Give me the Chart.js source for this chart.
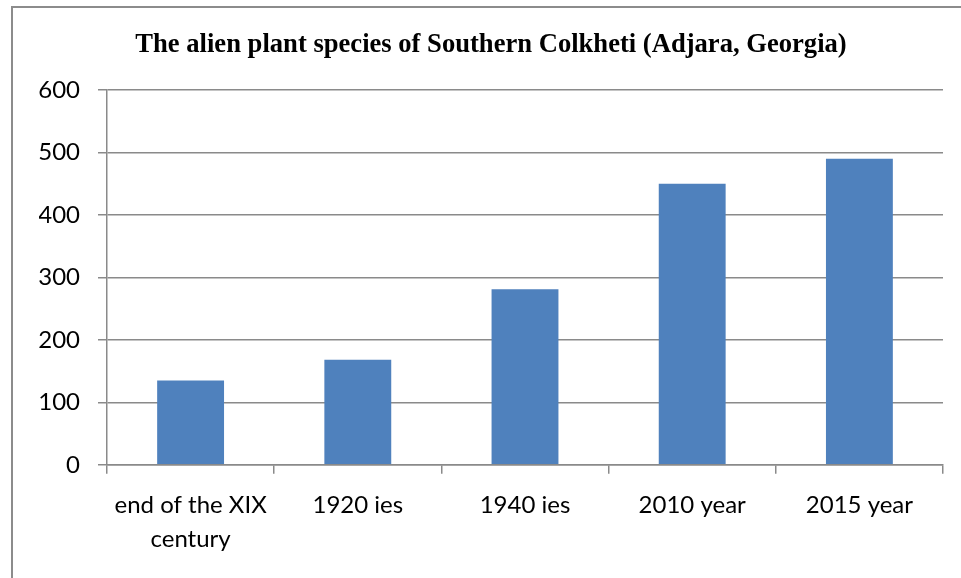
<!DOCTYPE html>
<html>
<head>
<meta charset="utf-8">
<script src="https://cdn.jsdelivr.net/npm/chart.js@4"></script>
<style>
  body { margin: 0; background: #fff; }
  #wrap { position: relative; width: 961px; height: 578px; }
  #frame { position: absolute; left: 11px; top: 6px; width: 960px; height: 580px;
           border-left: 2px solid #8c8c8c; border-top: 2px solid #8c8c8c; }
  canvas { position: absolute; left: 0; top: 0; }
</style>
</head>
<body>
<div id="wrap">
  <div id="frame"></div>
  <canvas id="alienChart" width="961" height="578"></canvas>
</div>
<script>
const categories = [["end of the XIX", "century"], "1920 ies", "1940 ies", "2010 year", "2015 year"];
const speciesCount = [135, 168, 281, 450, 490];
const titleText = "The alien plant species of Southern Colkheti (Adjara, Georgia)";

const gridColor = "#8a8a8a";

new Chart(document.getElementById("alienChart"), {
  type: "bar",
  data: {
    labels: categories,
    datasets: [
      {
        label: "species",
        data: speciesCount,
        backgroundColor: "#4f81bd",
        borderWidth: 0,
        barPercentage: 0.4,
        categoryPercentage: 1,
      },
    ],
  },
  options: {
    responsive: false,
    animation: false,
    layout: { padding: { left: 39, right: 18, top: 0, bottom: 7 } },
    plugins: {
      legend: { display: false },
      tooltip: { enabled: false },
      title: {
        display: true,
        text: titleText,
        color: "#000",
        font: { family: "Liberation Serif", size: 26.6, weight: "bold" },
        padding: { top: 29, bottom: 29 },
      },
    },
    scales: {
      x: {
        offset: true,
        grid: {
          offset: true,
          drawOnChartArea: false,
          color: gridColor,
          lineWidth: 1.5,
          tickLength: 9,
        },
        border: { color: gridColor, width: 1.5 },
        ticks: {
          color: "#000",
          font: { family: "Lato", size: 24, lineHeight: 1.4 },
          padding: 15,
          maxRotation: 0,
          autoSkip: false,
        },
      },
      y: {
        min: 0,
        max: 600,
        afterFit: (scale) => { scale.width = 68; },
        grid: { color: gridColor, lineWidth: 1.5, tickLength: 9 },
        border: { color: gridColor, width: 1.5 },
        ticks: {
          stepSize: 100,
          color: "#000",
          font: { family: "Lato", size: 24 },
          padding: 18,
        },
      },
    },
  },
});
</script>
</body>
</html>
